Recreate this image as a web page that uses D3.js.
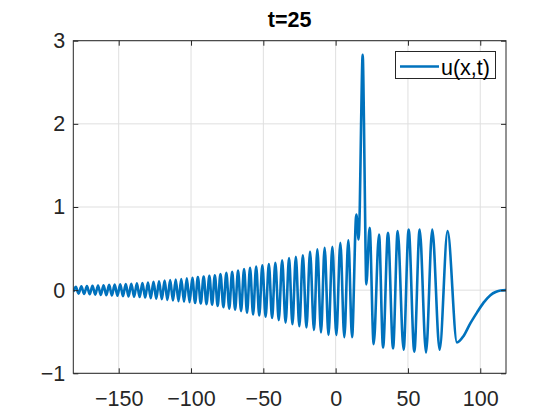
<!DOCTYPE html>
<html>
<head>
<meta charset="utf-8">
<script src="https://cdn.jsdelivr.net/npm/d3@7"></script>
<style>
    body { margin: 0; background: #fff; }
    svg { display: block; font-family: "Liberation Sans", Arial, sans-serif; }
</style>
</head>
<body>
<div id="chart"></div>
<script>
'use strict';

// Tick values of both axes.
var xTicks = [-150, -100, -50, 0, 50, 100];
var yTicks = [-1, 0, 1, 2, 3];

// Dispersive wave train on the left: alternating extrema (x, u).
var trainX = [
    -181.4, -179.65, -177.74, -175.82, -173.90, -171.98, -170.06, -168.14, -166.22, -164.30,
    -162.39, -160.47, -158.55, -156.63, -154.71, -152.79, -150.87, -148.96, -147.04, -145.12,
    -143.20, -141.28, -139.36, -137.44, -135.53, -133.61, -131.69, -129.77, -127.85, -125.93,
    -124.01, -122.10, -120.18, -118.26, -116.34, -114.42, -112.50, -110.58, -108.67, -106.75,
    -104.83, -102.91, -100.99, -99.07, -97.17, -95.27, -93.27, -91.26, -89.29, -87.32,
    -85.42, -83.52, -81.58, -79.65, -77.61, -75.57, -73.56, -71.56, -69.52, -67.48,
    -65.40, -63.33, -61.26, -59.18, -57.07, -54.96, -52.82, -50.68, -48.43, -46.18,
    -43.94, -41.69, -39.34, -36.99, -34.60, -32.22, -29.87, -27.52, -25.10, -22.68,
    -20.19, -17.70, -14.97, -12.65, -10.13, -7.61, -4.94, -2.28, 0.48, 3.25,
    6.01, 8.78, 11.34
];
var trainU = [
    -0.020, 0.040, -0.042, 0.045, -0.046, 0.048, -0.050, 0.052, -0.054, 0.056,
    -0.057, 0.059, -0.061, 0.063, -0.065, 0.066, -0.068, 0.070, -0.072, 0.074,
    -0.076, 0.077, -0.079, 0.081, -0.083, 0.086, -0.089, 0.092, -0.096, 0.099,
    -0.103, 0.107, -0.110, 0.114, -0.117, 0.121, -0.125, 0.128, -0.132, 0.135,
    -0.139, 0.143, -0.146, 0.150, -0.154, 0.157, -0.161, 0.164, -0.168, 0.172,
    -0.176, 0.180, -0.190, 0.195, -0.205, 0.210, -0.222, 0.220, -0.235, 0.235,
    -0.252, 0.255, -0.272, 0.270, -0.292, 0.285, -0.305, 0.300, -0.320, 0.315,
    -0.335, 0.330, -0.360, 0.360, -0.390, 0.385, -0.410, 0.400, -0.435, 0.420,
    -0.450, 0.460, -0.480, 0.490, -0.510, 0.510, -0.540, 0.520, -0.540, 0.570,
    -0.565, 0.600, -0.565
];

// Solitary peak and the large oscillations ahead of it, then the tail back to zero.
var frontX = [
    14.3, 15.9, 16.7, 17.6, 18.7, 19.6, 20.3, 21.2, 23.5, 26.3,
    30.0, 32.8, 36.2, 39.7, 42.9, 47.0, 50.5, 54.4, 58.1, 62.5,
    66.8, 71.9, 77.4, 83.9, 88.5, 93.1, 97.7, 102.3, 107.0, 111.0,
    114.0, 117.8
];
var frontU = [
    0.91, 0.61, 1.00, 2.00, 2.83, 2.00, 1.00, 0.07, 0.75, -0.65,
    0.67, -0.69, 0.69, -0.70, 0.71, -0.715, 0.73, -0.74, 0.73, -0.75,
    0.73, -0.715, 0.71, -0.63, -0.55, -0.40, -0.27, -0.15, -0.06, -0.02,
    -0.005, 0.0
];

var seriesName = 'u(x,t)';
var titleText = 't=25';

var width = 560,
    height = 420,
    plot = {left: 73.3, right: 506, top: 40.7, bottom: 373.3},
    ink = '#262626',
    lineColor = '#0072BD',
    fontSize = 21.5;

var data = d3.zip(trainX.concat(frontX), trainU.concat(frontU));

var x = d3.scaleLinear().domain([-181.4, 117.8]).range([plot.left, plot.right]);
var y = d3.scaleLinear().domain([-1, 3]).range([plot.bottom, plot.top]);

var svg = d3.select('#chart').append('svg')
    .attr('width', width)
    .attr('height', height);

svg.append('rect').attr('width', width).attr('height', height).attr('fill', '#fff');

// Grid lines.
var grid = svg.append('g').attr('class', 'grid')
    .attr('stroke', '#dfdfdf')
    .attr('stroke-width', 1);

grid.selectAll('.gx').data(xTicks).enter().append('line')
    .attr('x1', function (d) { return x(d); })
    .attr('x2', function (d) { return x(d); })
    .attr('y1', plot.top)
    .attr('y2', plot.bottom);

grid.selectAll('.gy').data(yTicks).enter().append('line')
    .attr('x1', plot.left)
    .attr('x2', plot.right)
    .attr('y1', function (d) { return y(d); })
    .attr('y2', function (d) { return y(d); });

// The curve, clipped to the axes box.
svg.append('clipPath').attr('id', 'clip')
    .append('rect')
    .attr('x', plot.left)
    .attr('y', plot.top)
    .attr('width', plot.right - plot.left)
    .attr('height', plot.bottom - plot.top);

var line = d3.line()
    .x(function (d) { return x(d[0]); })
    .y(function (d) { return y(d[1]); })
    .curve(d3.curveMonotoneX);

svg.append('path')
    .datum(data)
    .attr('clip-path', 'url(#clip)')
    .attr('fill', 'none')
    .attr('stroke', lineColor)
    .attr('stroke-width', 2.6)
    .attr('stroke-linejoin', 'round')
    .attr('d', line);

// Axes with inward ticks on all four sides.
function styleAxis(g) {
    g.select('.domain').remove();
    g.selectAll('.tick line').attr('stroke', ink).attr('stroke-width', 1);
    g.selectAll('.tick text')
        .attr('fill', ink)
        .style('font-size', fontSize + 'px')
        .style('font-family', '"Liberation Sans", Arial, sans-serif');
}

// d3.format gives a real minus sign, like the reference labels.
var fmt = d3.format('');

svg.append('g')
    .attr('transform', 'translate(0,' + plot.bottom + ')')
    .call(d3.axisBottom(x).tickValues(xTicks).tickFormat(fmt).tickSize(-5).tickPadding(17))
    .call(styleAxis);

svg.append('g')
    .attr('transform', 'translate(0,' + plot.top + ')')
    .call(d3.axisTop(x).tickValues(xTicks).tickFormat('').tickSize(-5))
    .call(styleAxis);

svg.append('g')
    .attr('transform', 'translate(' + plot.left + ',0)')
    .call(d3.axisLeft(y).tickValues(yTicks).tickFormat(fmt).tickSize(-5).tickPadding(8))
    .call(styleAxis);

svg.append('g')
    .attr('transform', 'translate(' + plot.right + ',0)')
    .call(d3.axisRight(y).tickValues(yTicks).tickFormat('').tickSize(-5))
    .call(styleAxis);

// Axes box.
svg.append('rect')
    .attr('x', plot.left)
    .attr('y', plot.top)
    .attr('width', plot.right - plot.left)
    .attr('height', plot.bottom - plot.top)
    .attr('fill', 'none')
    .attr('stroke', ink)
    .attr('stroke-width', 1);

// Title.
svg.append('text')
    .attr('x', (plot.left + plot.right) / 2)
    .attr('y', 26.7)
    .attr('text-anchor', 'middle')
    .attr('fill', '#000')
    .style('font-size', fontSize + 'px')
    .style('font-weight', 'bold')
    .text(titleText);

// Legend.
var legend = svg.append('g').attr('class', 'legend');

legend.append('rect')
    .attr('x', 395.5)
    .attr('y', 51.5)
    .attr('width', 100)
    .attr('height', 27)
    .attr('fill', '#fff')
    .attr('stroke', ink)
    .attr('stroke-width', 1);

legend.append('line')
    .attr('x1', 400)
    .attr('x2', 439)
    .attr('y1', 66.5)
    .attr('y2', 66.5)
    .attr('stroke', lineColor)
    .attr('stroke-width', 2.6);

legend.append('text')
    .attr('x', 441)
    .attr('y', 74.5)
    .attr('fill', '#000')
    .style('font-size', fontSize + 'px')
    .text(seriesName);
</script>
</body>
</html>
